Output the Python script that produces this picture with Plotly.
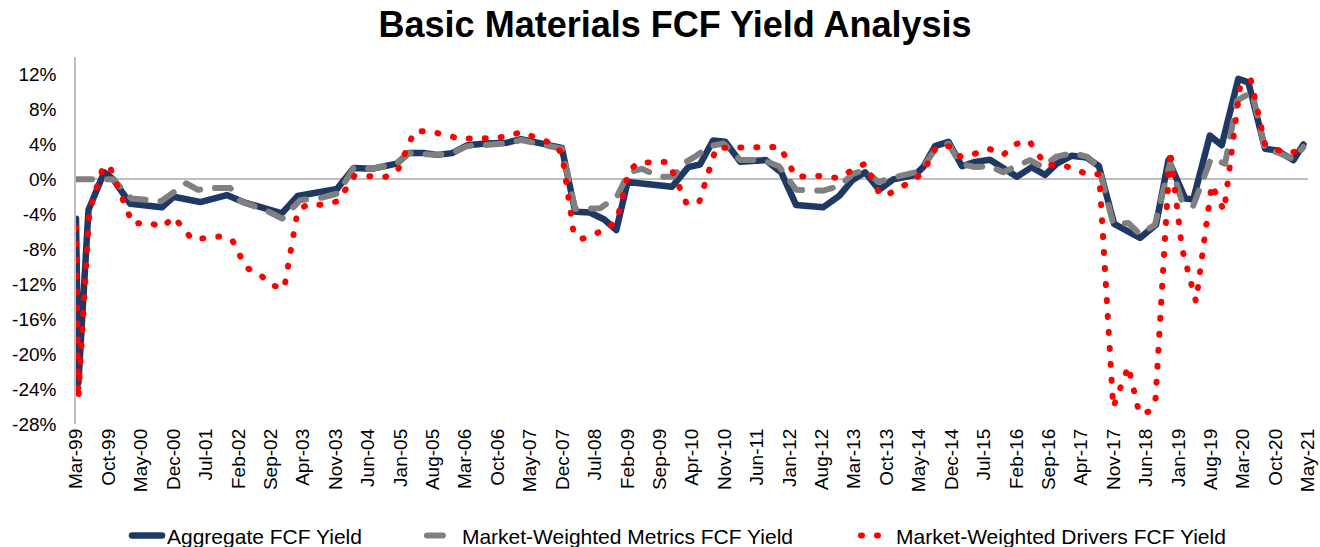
import pandas as pd
import plotly.graph_objects as go

# ---------------- data (FCF yield, in %) ----------------
tick_labels = ["Mar-99", "Oct-99", "May-00", "Dec-00", "Jul-01", "Feb-02", "Sep-02", "Apr-03",
               "Nov-03", "Jun-04", "Jan-05", "Aug-05", "Mar-06", "Oct-06", "May-07", "Dec-07",
               "Jul-08", "Feb-09", "Sep-09", "Apr-10", "Nov-10", "Jun-11", "Jan-12", "Aug-12",
               "Mar-13", "Oct-13", "May-14", "Dec-14", "Jul-15", "Feb-16", "Sep-16", "Apr-17",
               "Nov-17", "Jun-18", "Jan-19", "Aug-19", "Mar-20", "Oct-20", "May-21"]

agg_dates = ["1999-03-01", "1999-03-17", "1999-05-22", "1999-09-02", "1999-11-01", "2000-02-21",
             "2000-09-16", "2000-12-01", "2001-05-25", "2001-11-16", "2002-03-04", "2002-07-13",
             "2002-11-13", "2003-02-25", "2003-06-19", "2003-11-10", "2004-02-28", "2004-06-25",
             "2004-12-07", "2005-02-22", "2005-06-11", "2005-08-29", "2005-12-06", "2006-03-14",
             "2006-07-17", "2006-12-03", "2007-03-03", "2007-05-14", "2007-11-27", "2008-02-23",
             "2008-05-30", "2008-09-01", "2008-11-19", "2009-02-01", "2009-11-20", "2010-03-07",
             "2010-05-23", "2010-08-17", "2010-11-05", "2011-02-12", "2011-07-30", "2011-11-08",
             "2012-02-14", "2012-08-09", "2012-11-23", "2013-02-17", "2013-05-12", "2013-08-12",
             "2013-11-13", "2014-04-05", "2014-05-29", "2014-08-15", "2014-11-11", "2015-02-08",
             "2015-05-04", "2015-08-11", "2015-11-07", "2016-02-04", "2016-05-11", "2016-08-07",
             "2016-10-23", "2017-01-30", "2017-05-08", "2017-07-27", "2017-11-04", "2018-04-23",
             "2018-08-06", "2018-10-27", "2019-02-14", "2019-04-08", "2019-07-26", "2019-10-12",
             "2020-01-29", "2020-04-04", "2020-07-23", "2020-10-08", "2021-01-26", "2021-04-01"]
agg_values = [-4.5, -23.3, -3.5, 0.8, 0.0, -2.8, -3.2, -2.0, -2.6, -1.8, -2.6, -3.2, -3.9, -1.9,
              -1.55, -1.1, 1.3, 1.2, 1.8, 3.0, 3.0, 2.8, 3.0, 3.9, 4.1, 4.2, 4.6, 4.3, 3.6, -3.7,
              -3.8, -4.6, -5.8, -0.3, -0.85, 1.4, 1.7, 4.45, 4.3, 2.0, 2.2, 0.8, -2.95, -3.2, -1.9,
              -0.1, 0.8, -1.2, 0.0, 0.5, 1.4, 3.8, 4.3, 1.5, 2.0, 2.25, 1.2, 0.3, 1.4, 0.5, 1.8,
              2.7, 2.5, 1.5, -5.1, -6.7, -5.2, 2.2, -2.2, -2.3, 5.0, 3.9, 11.5, 11.1, 3.5, 3.3,
              2.2, 4.0]

met_dates = ["1999-03-01", "1999-11-01", "2000-02-27", "2000-09-11", "2001-02-23", "2001-05-11",
             "2001-09-01", "2001-12-09", "2002-02-13", "2002-08-06", "2002-11-15", "2003-03-12",
             "2003-08-04", "2003-11-18", "2004-02-27", "2004-06-25", "2004-12-07", "2005-02-22",
             "2005-08-29", "2005-12-06", "2006-03-14", "2006-07-17", "2006-12-03", "2007-03-03",
             "2007-05-14", "2007-11-27", "2008-02-23", "2008-05-30", "2008-08-05", "2008-11-23",
             "2009-02-09", "2009-05-05", "2009-09-04", "2009-11-30", "2010-02-02", "2010-04-20",
             "2010-07-27", "2010-10-24", "2011-02-12", "2011-07-11", "2011-10-24", "2012-02-14",
             "2012-08-09", "2012-11-29", "2013-02-17", "2013-05-12", "2013-08-06", "2013-10-23",
             "2014-04-05", "2014-05-29", "2014-08-26", "2014-11-11", "2015-01-27", "2015-05-04",
             "2015-08-11", "2015-11-05", "2016-02-12", "2016-04-29", "2016-07-24", "2016-10-19",
             "2017-02-02", "2017-05-09", "2017-07-27", "2017-10-29", "2018-02-05", "2018-04-23",
             "2018-07-30", "2018-11-07", "2019-01-25", "2019-04-06", "2019-08-03", "2019-11-03",
             "2020-01-21", "2020-04-28", "2020-07-23", "2020-10-09", "2021-01-26", "2021-04-01"]
met_values = [0.0, 0.0, -2.2, -2.5, -0.45, -1.2, -1.0, -1.0, -2.5, -3.6, -4.5, -2.4, -2.1, -1.6,
              1.3, 1.2, 1.8, 3.0, 2.8, 3.0, 3.8, 4.0, 4.1, 4.5, 4.2, 3.5, -3.4, -3.4, -3.3, -2.0,
              0.8, 1.2, 0.3, 0.3, 1.8, 2.6, 3.8, 4.1, 2.2, 2.2, 1.5, -1.2, -1.3, -0.75, 0.6, 1.1,
              -0.3, 0.1, 0.8, 1.4, 3.7, 4.1, 1.8, 1.4, 1.5, 0.8, 1.6, 2.2, 1.4, 2.6, 3.0, 2.6,
              1.4, -5.1, -5.0, -6.3, -5.2, 1.9, -2.6, -3.1, 2.4, 1.8, 9.0, 10.0, 3.4, 3.1, 2.3, 3.7]

drv_dates = ["1999-03-01", "1999-03-16", "1999-05-28", "1999-08-28", "1999-10-07", "2000-03-07",
             "2000-06-15", "2000-09-18", "2000-12-03", "2001-04-04", "2001-10-19", "2001-12-26",
             "2002-03-22", "2002-06-23", "2002-09-04", "2002-11-28", "2003-02-24", "2003-04-25",
             "2003-08-06", "2003-11-16", "2004-03-04", "2004-09-27", "2004-12-12", "2005-04-02",
             "2005-07-14", "2006-01-28", "2006-08-17", "2006-11-26", "2007-03-03", "2007-09-16",
             "2007-11-27", "2008-02-10", "2008-03-26", "2008-06-30", "2008-10-03", "2008-11-29",
             "2009-02-09", "2009-04-09", "2009-10-27", "2010-02-22", "2010-05-16", "2010-09-06",
             "2011-11-01", "2012-02-11", "2012-08-01", "2012-11-12", "2013-05-12", "2013-08-19",
             "2013-10-02", "2014-03-24", "2014-05-25", "2014-08-26", "2014-11-27", "2015-02-01",
             "2015-04-28", "2015-08-05", "2015-11-07", "2016-01-18", "2016-04-24", "2016-08-12",
             "2016-11-21", "2017-02-27", "2017-05-24", "2017-07-29", "2017-10-29", "2018-02-05",
             "2018-04-18", "2018-06-17", "2018-08-03", "2018-11-07", "2019-01-25", "2019-04-26",
             "2019-08-07", "2019-10-27", "2020-02-10", "2020-04-20", "2020-07-23", "2020-12-17",
             "2021-04-01"]
drv_values = [-5.5, -25.1, -3.6, 1.5, 1.5, -5.1, -4.9, -5.5, -4.3, -6.9, -6.5, -7.1, -10.1, -10.9,
              -12.1, -12.5, -3.7, -2.9, -2.9, -2.5, 0.4, 0.3, 0.95, 5.5, 5.5, 4.65, 4.7, 4.9, 5.4,
              4.15, 3.05, -5.8, -6.9, -6.3, -5.6, -4.3, 0.9, 1.9, 2.0, -2.7, -2.7, 3.6, 3.7, 0.3,
              0.4, 0.15, 1.8, -1.8, -1.8, -0.1, 0.7, 3.8, 3.8, 2.55, 2.9, 3.5, 2.8, 4.0, 4.4, 1.6,
              1.7, 1.1, 0.5, 0.6, -26.1, -21.4, -26.8, -26.6, -25.1, 3.3, -8.0, -14.0, -0.6, -3.6,
              10.6, 11.4, 4.0, 2.9, 3.5]

y_ticks = [-28, -24, -20, -16, -12, -8, -4, 0, 4, 8, 12]

# ---------------- figure ----------------
FONT = "Liberation Sans, Arial, Helvetica, sans-serif"
tick_dates = pd.to_datetime(tick_labels, format="%b-%y")

fig = go.Figure()
fig.add_trace(go.Scatter(
    x=pd.to_datetime(agg_dates), y=agg_values, mode="lines",
    name="Aggregate FCF Yield", legend="legend",
    line=dict(color="#1F3864", width=6.5)))
fig.add_trace(go.Scatter(
    x=pd.to_datetime(met_dates), y=met_values, mode="lines",
    name="Market-Weighted Metrics FCF Yield", legend="legend2",
    line=dict(color="#808080", width=6, dash="16px,15px")))
fig.add_trace(go.Scatter(
    x=pd.to_datetime(drv_dates), y=drv_values, mode="lines",
    name="Market-Weighted Drivers FCF Yield", legend="legend3",
    line=dict(color="#FF0000", width=6, dash="1px,15px")))

legend_style = dict(orientation="h", xanchor="left", y=-0.305, yanchor="middle",
                    font=dict(family=FONT, size=21, color="#000000"),
                    bgcolor="rgba(0,0,0,0)")

fig.update_layout(
    width=1320, height=547,
    paper_bgcolor="white", plot_bgcolor="white",
    margin=dict(l=76, r=12, t=57, b=123, autoexpand=False),
    font=dict(family=FONT, color="#000000", size=19),
    title=dict(text="<b>Basic Materials FCF Yield Analysis</b>",
               font=dict(family=FONT, size=36, color="#000000"),
               x=0.5114, xanchor="center", y=0.956, yanchor="middle"),
    showlegend=True,
    legend=dict(x=0.0414, **legend_style),
    legend2=dict(x=0.2808, **legend_style),
    legend3=dict(x=0.6331, **legend_style),
    xaxis=dict(type="date", range=[tick_dates[0], tick_dates[-1]],
               tickmode="array", tickvals=tick_dates, ticktext=tick_labels,
               tickangle=-90, showgrid=False, zeroline=False, showline=False,
               ticks="", tickfont=dict(family=FONT, size=19, color="#000000")),
    yaxis=dict(range=[-28, 14], tickmode="array", tickvals=y_ticks,
               ticktext=[f"{v}%" for v in y_ticks],
               showgrid=False, showline=True, linecolor="#BFBFBF", linewidth=1.5,
               zeroline=True, zerolinecolor="#BFBFBF", zerolinewidth=2,
               ticks="", ticklabelstandoff=14,
               tickfont=dict(family=FONT, size=19, color="#000000")),
)

page_fix = """
document.body.style.margin = '0';
document.body.style.overflow = 'hidden';
var gd = document.getElementById('{plot_id}');
gd.querySelectorAll('path.js-line').forEach(function(p){
  p.style.strokeLinecap = 'round';
  p.style.strokeLinejoin = 'round';
});
"""

fig.write_html("out.html", post_script=page_fix, config={"displayModeBar": False})
